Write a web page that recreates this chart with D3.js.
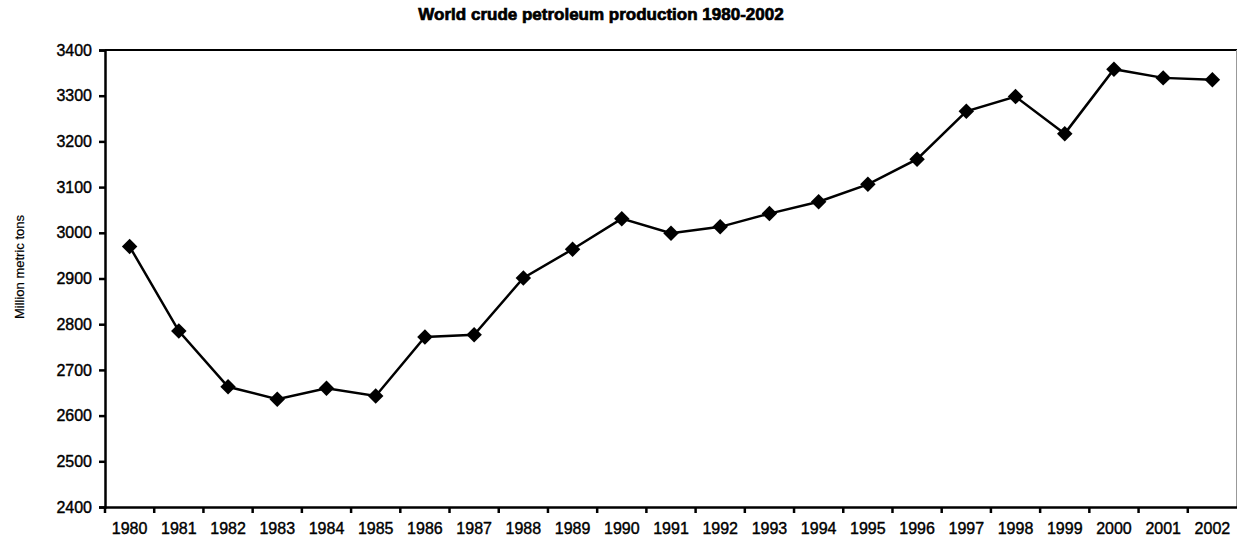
<!DOCTYPE html>
<html>
<head>
<meta charset="utf-8">
<script src="https://cdn.jsdelivr.net/npm/d3@7"></script>
<style>
  body { margin: 0; background: #fff; }
  text { font-family: "Liberation Sans", Arial, sans-serif; fill: #000; }
</style>
</head>
<body>
<svg id="chart" width="1237" height="539"></svg>
<script>
// values
const years = ["1980", "1981", "1982", "1983", "1984", "1985", "1986", "1987", "1988", "1989", "1990", "1991",
    "1992", "1993", "1994", "1995", "1996", "1997", "1998", "1999", "2000", "2001", "2002"];
const production = [2970, 2785, 2663, 2636, 2660, 2643, 2772, 2777, 2901, 2964, 3031, 2999,
    3013, 3042, 3068, 3106, 3161, 3266, 3298, 3217, 3358, 3339, 3335];
const yTicks = [2400, 2500, 2600, 2700, 2800, 2900, 3000, 3100, 3200, 3300, 3400];

const data = years.map((y, i) => ({ year: y, value: production[i] }));

const size = { width: 1237, height: 539, left: 105, right: 1237, top: 50, bottom: 507 };
const svg = d3.select('#chart');

const x = d3.scaleBand()
    .domain(years)
    .range([size.left, size.right]);

const y = d3.scaleLinear()
    .domain([2400, 3400])
    .range([size.bottom, size.top]);

// plot frame (top and right are lighter like the original)
svg.append("line")
    .attr("x1", size.left).attr("x2", size.right)
    .attr("y1", size.top).attr("y2", size.top)
    .attr("stroke", "#000").attr("stroke-width", 2);
svg.append("line")
    .attr("x1", size.right - 0.5).attr("x2", size.right - 0.5)
    .attr("y1", size.top).attr("y2", size.bottom)
    .attr("stroke", "#999").attr("stroke-width", 1);

// y axis
const yAxis = svg.append("g")
    .attr("transform", `translate(${size.left},0)`)
    .call(d3.axisLeft(y).tickValues(yTicks).tickSize(6).tickPadding(7).tickFormat(d3.format("d")));
yAxis.select(".domain").attr("stroke-width", 2.5);
yAxis.selectAll(".tick line").attr("stroke-width", 2.5);
yAxis.selectAll("text")
    .style("font-size", "16px")
    .attr("stroke", "#000").attr("stroke-width", 0.4);

// x axis, ticks between categories like a spreadsheet chart
const xAxis = svg.append("g")
    .attr("transform", `translate(0,${size.bottom})`)
    .call(d3.axisBottom(x).tickSize(0).tickPadding(16));
xAxis.select(".domain").attr("stroke-width", 2.5);
xAxis.selectAll("text")
    .style("font-size", "16px")
    .attr("stroke", "#000").attr("stroke-width", 0.4);
xAxis.selectAll(".sep")
    .data(years)
    .enter().append("line")
    .attr("class", "sep")
    .attr("x1", d => x(d)).attr("x2", d => x(d))
    .attr("y1", 0).attr("y2", 6)
    .attr("stroke", "#000").attr("stroke-width", 2.5);

// the series
const line = d3.line()
    .x(d => x(d.year) + x.bandwidth() / 2)
    .y(d => y(d.value));

svg.append("path")
    .datum(data)
    .attr("d", line)
    .attr("fill", "none")
    .attr("stroke", "#000")
    .attr("stroke-width", 2.5);

const diamond = d3.symbol().type(d3.symbolSquare).size(120);
svg.selectAll(".marker")
    .data(data)
    .enter().append("path")
    .attr("class", "marker")
    .attr("d", diamond)
    .attr("fill", "#000")
    .attr("transform", d => `translate(${x(d.year) + x.bandwidth() / 2},${y(d.value)}) rotate(45)`);

// titles
svg.append("text")
    .attr("x", 601)
    .attr("y", 20)
    .attr("text-anchor", "middle")
    .style("font-size", "17px")
    .style("font-weight", "bold")
    .attr("stroke", "#000").attr("stroke-width", 0.7)
    .text("World crude petroleum production 1980-2002");

svg.append("text")
    .attr("transform", "translate(24,267) rotate(-90)")
    .attr("text-anchor", "middle")
    .style("font-size", "13px")
    .attr("stroke", "#000").attr("stroke-width", 0.2)
    .text("Million metric tons");
</script>
</body>
</html>
